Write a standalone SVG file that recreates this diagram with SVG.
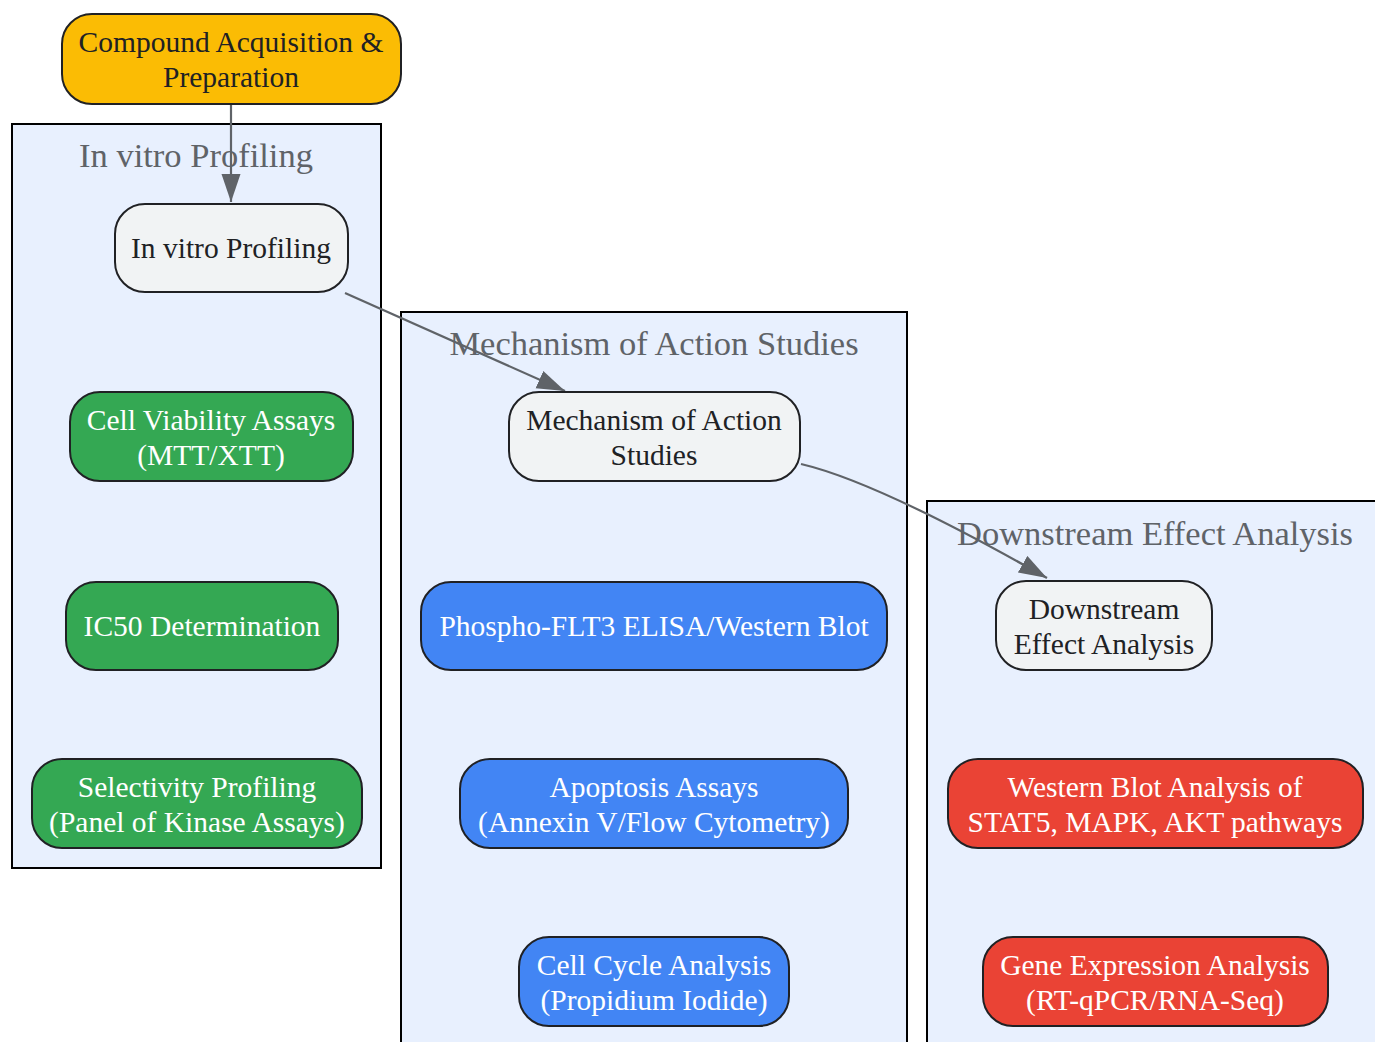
<svg xmlns="http://www.w3.org/2000/svg" width="1375" height="1042" viewBox="0 0 1375 1042">
<style>
  .cluster { fill: #E8F0FE; stroke: #000000; stroke-width: 2; }
  .clabel { font-family: "Liberation Serif", "Times New Roman", serif; font-size: 34.5px; fill: #5F6368; text-anchor: middle; dominant-baseline: central; }
  .node rect { stroke: #202124; stroke-width: 2; }
  .node text { font-family: "Liberation Serif", "Times New Roman", serif; font-size: 29.5px; text-anchor: middle; dominant-baseline: central; }
  .yellow rect { fill: #FBBC04; }
  .yellow text { fill: #202124; }
  .gray rect { fill: #F1F3F4; }
  .gray text { fill: #202124; }
  .green rect { fill: #34A853; }
  .blue rect { fill: #4285F4; }
  .red rect { fill: #EA4335; }
  .green text, .blue text, .red text { fill: #FFFFFF; }
  .edge { fill: none; stroke: #5F6368; stroke-width: 2.2; }
</style>
<defs>
  <marker id="arrow" markerUnits="userSpaceOnUse" markerWidth="28" markerHeight="20" refX="28" refY="10" orient="auto">
    <path d="M0,0.5 L28,10 L0,19.5 z" fill="#5F6368"/>
  </marker>
</defs>
<rect width="1375" height="1042" fill="#FFFFFF"/>

<g id="cluster-invitro">
  <rect class="cluster" x="12" y="124" width="369" height="744"/>
  <text class="clabel" x="196" y="155">In vitro Profiling</text>
</g>
<g id="cluster-moa">
  <rect class="cluster" x="401" y="312" width="506" height="760"/>
  <text class="clabel" x="654" y="343">Mechanism of Action Studies</text>
</g>
<g id="cluster-downstream">
  <rect class="cluster" x="927" y="501" width="480" height="570"/>
  <text class="clabel" x="1155" y="533">Downstream Effect Analysis</text>
</g>

<g id="connectors">
  <path class="edge" d="M231,104 L231,202" marker-end="url(#arrow)"/>
  <path class="edge" d="M345,293 L565,391" marker-end="url(#arrow)"/>
  <path class="edge" d="M801,464 Q878,482 1047,578" marker-end="url(#arrow)"/>
</g>

<g id="node-compound" class="node yellow">
  <rect x="62" y="14" width="339" height="90" rx="30"/>
  <text x="231" y="42">Compound Acquisition &amp;</text>
  <text x="231" y="77">Preparation</text>
</g>
<g id="node-invitro" class="node gray">
  <rect x="115" y="204" width="233" height="88" rx="30"/>
  <text x="231" y="248">In vitro Profiling</text>
</g>
<g id="node-viability" class="node green">
  <rect x="70" y="392" width="283" height="89" rx="30"/>
  <text x="211" y="420">Cell Viability Assays</text>
  <text x="211" y="455">(MTT/XTT)</text>
</g>
<g id="node-ic50" class="node green">
  <rect x="66" y="582" width="272" height="88" rx="30"/>
  <text x="202" y="626">IC50 Determination</text>
</g>
<g id="node-selectivity" class="node green">
  <rect x="32" y="759" width="330" height="89" rx="30"/>
  <text x="197" y="787">Selectivity Profiling</text>
  <text x="197" y="822">(Panel of Kinase Assays)</text>
</g>
<g id="node-moa" class="node gray">
  <rect x="509" y="392" width="291" height="89" rx="30"/>
  <text x="654" y="420">Mechanism of Action</text>
  <text x="654" y="455">Studies</text>
</g>
<g id="node-phospho" class="node blue">
  <rect x="421" y="582" width="466" height="88" rx="30"/>
  <text x="654" y="626">Phospho-FLT3 ELISA/Western Blot</text>
</g>
<g id="node-apoptosis" class="node blue">
  <rect x="460" y="759" width="388" height="89" rx="30"/>
  <text x="654" y="787">Apoptosis Assays</text>
  <text x="654" y="822">(Annexin V/Flow Cytometry)</text>
</g>
<g id="node-cellcycle" class="node blue">
  <rect x="519" y="937" width="270" height="89" rx="30"/>
  <text x="654" y="965">Cell Cycle Analysis</text>
  <text x="654" y="1000">(Propidium Iodide)</text>
</g>
<g id="node-downstream" class="node gray">
  <rect x="996" y="581" width="216" height="89" rx="30"/>
  <text x="1104" y="609">Downstream</text>
  <text x="1104" y="644">Effect Analysis</text>
</g>
<g id="node-western" class="node red">
  <rect x="948" y="759" width="415" height="89" rx="30"/>
  <text x="1155" y="787">Western Blot Analysis of</text>
  <text x="1155" y="822">STAT5, MAPK, AKT pathways</text>
</g>
<g id="node-gene" class="node red">
  <rect x="983" y="937" width="345" height="89" rx="30"/>
  <text x="1155" y="965">Gene Expression Analysis</text>
  <text x="1155" y="1000">(RT-qPCR/RNA-Seq)</text>
</g>
</svg>
